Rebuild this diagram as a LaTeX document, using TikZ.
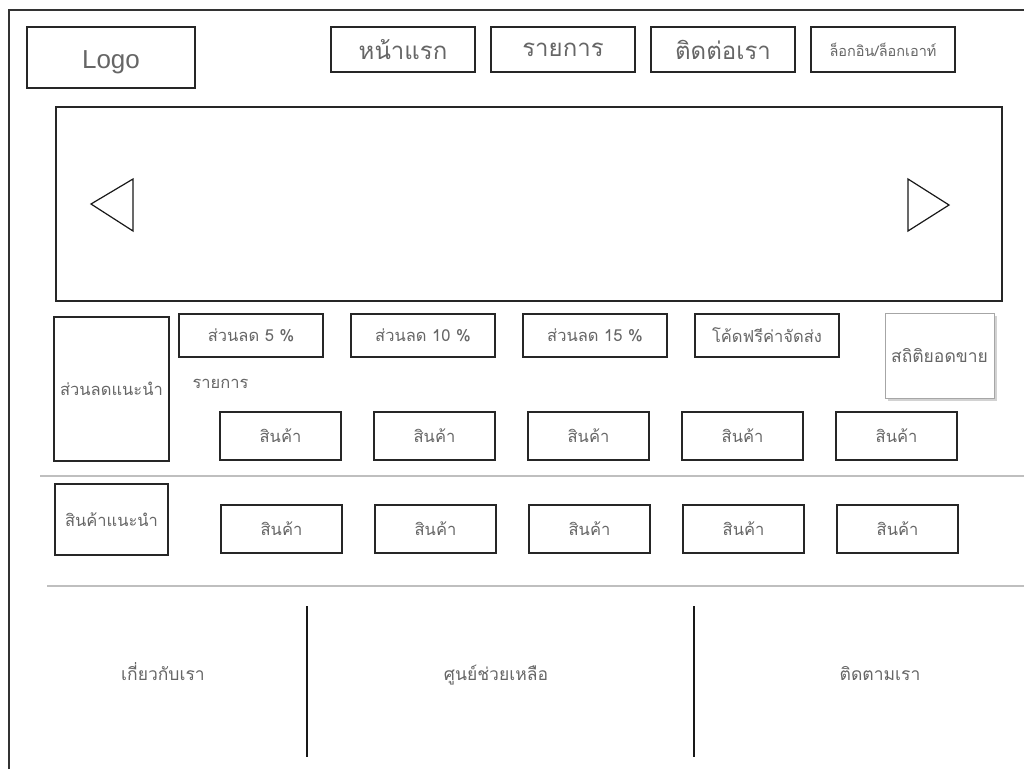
\documentclass[tikz,border=0pt]{standalone}
\usepackage{fontspec}
\setmainfont{Liberation Sans}
\newfontfamily\thaifont[Script=Thai]{Loma}
\usetikzlibrary{positioning,shadows}

\begin{document}
\begin{tikzpicture}[
    x=1pt, y=-1pt,
    font=\thaifont\fontsize{16.5}{18}\selectfont,
    frame/.style={draw, black!80, line width=1.4pt},
    box/.style={draw, black!85, line width=1.4pt, text=black!60,
                inner sep=0pt, align=center},
    navbox/.style={box, minimum width=144pt, minimum height=45pt,
                   font=\thaifont\fontsize{24}{26}\selectfont},
    deal/.style={box, minimum width=144pt, minimum height=43pt},
    item/.style={box, minimum width=121pt, minimum height=48pt},
    rule/.style={draw, black!25, line width=2pt},
    foot/.style={text=black!60, font=\thaifont\fontsize{17.5}{19}\selectfont,
                 text height=13pt, text depth=4pt},
  ]
  \useasboundingbox (0,0) rectangle (1024,769);
  \fill[white] (0,0) rectangle (1024,769);
  \draw[frame] (9,769) -- (9,10) -- (1024,10);

  % --- header ---
  \node[box, minimum width=168pt, minimum height=61pt,
        font=\fontsize{26}{28}\selectfont] (logo) at (111,57.5)
        {\raisebox{-5pt}[12pt][0pt]{Logo}};
  \node[navbox] (home) at (403,49.5) {หน้าแรก};
  \node[navbox, right=14.6pt of home] (list) {รายการ};
  \node[navbox, right=14.6pt of list] (contact) {ติดต่อเรา};
  \node[navbox, right=14.6pt of contact,
        font=\thaifont\fontsize{14.5}{16}\selectfont] (login) {ล็อกอิน/ล็อกเอาท์};

  % --- banner ---
  \node[box, minimum width=946pt, minimum height=194pt] (banner) at (529,204) {};
  \draw[black!90, line width=1.2pt] (133,179) -- (91,204) -- (133,231) -- cycle;
  \draw[black!90, line width=1.2pt] (908,179) -- (949,205) -- (908,231) -- cycle;

  % --- discounts ---
  \node[box, minimum width=115pt, minimum height=144pt] (sale) at (111.5,389) {ส่วนลดแนะนำ};
  \node[deal] (d5) at (251,335.5) {ส่วนลด 5 \%};
  \node[deal, right=26.6pt of d5] (d10) {ส่วนลด 10 \%};
  \node[deal, right=26.6pt of d10] (d15) {ส่วนลด 15 \%};
  \node[deal, right=26.6pt of d15] (ship) {โค้ดฟรีค่าจัดส่ง};
  \node[box, draw=black!35, line width=1pt, fill=white, drop shadow={opacity=0.35},
        font=\thaifont\fontsize{17.5}{19}\selectfont,
        minimum width=109pt, minimum height=85pt] (stats) at (939.5,355.5) {สถิติยอดขาย};
  \node[text=black!60, anchor=west] (listlbl) at (189,384) {รายการ};
  \node[item] (a1) at (280.5,436) {สินค้า};
  \foreach \i [count=\j from 2] in {1,...,4}
    \node[item, right=31.6pt of a\i] (a\j) {สินค้า};

  \draw[rule] (40,476) -- (1024,476);

  % --- recommended ---
  \node[box, minimum width=113pt, minimum height=71pt] (rec) at (111.5,519.5) {สินค้าแนะนำ};
  \node[item] (b1) at (281.5,529) {สินค้า};
  \foreach \i [count=\j from 2] in {1,...,4}
    \node[item, right=31.6pt of b\i] (b\j) {สินค้า};

  \draw[rule] (47,586) -- (1024,586);

  % --- footer ---
  \draw[black!90, line width=1.4pt] (307,606) -- (307,757);
  \draw[black!90, line width=1.4pt] (694,606) -- (694,757);
  \node[foot] (about) at (163,676) {เกี่ยวกับเรา};
  \node[foot] (help) at (496,676) {ศูนย์ช่วยเหลือ};
  \node[foot] (follow) at (880,676) {ติดตามเรา};
\end{tikzpicture}
\end{document}
